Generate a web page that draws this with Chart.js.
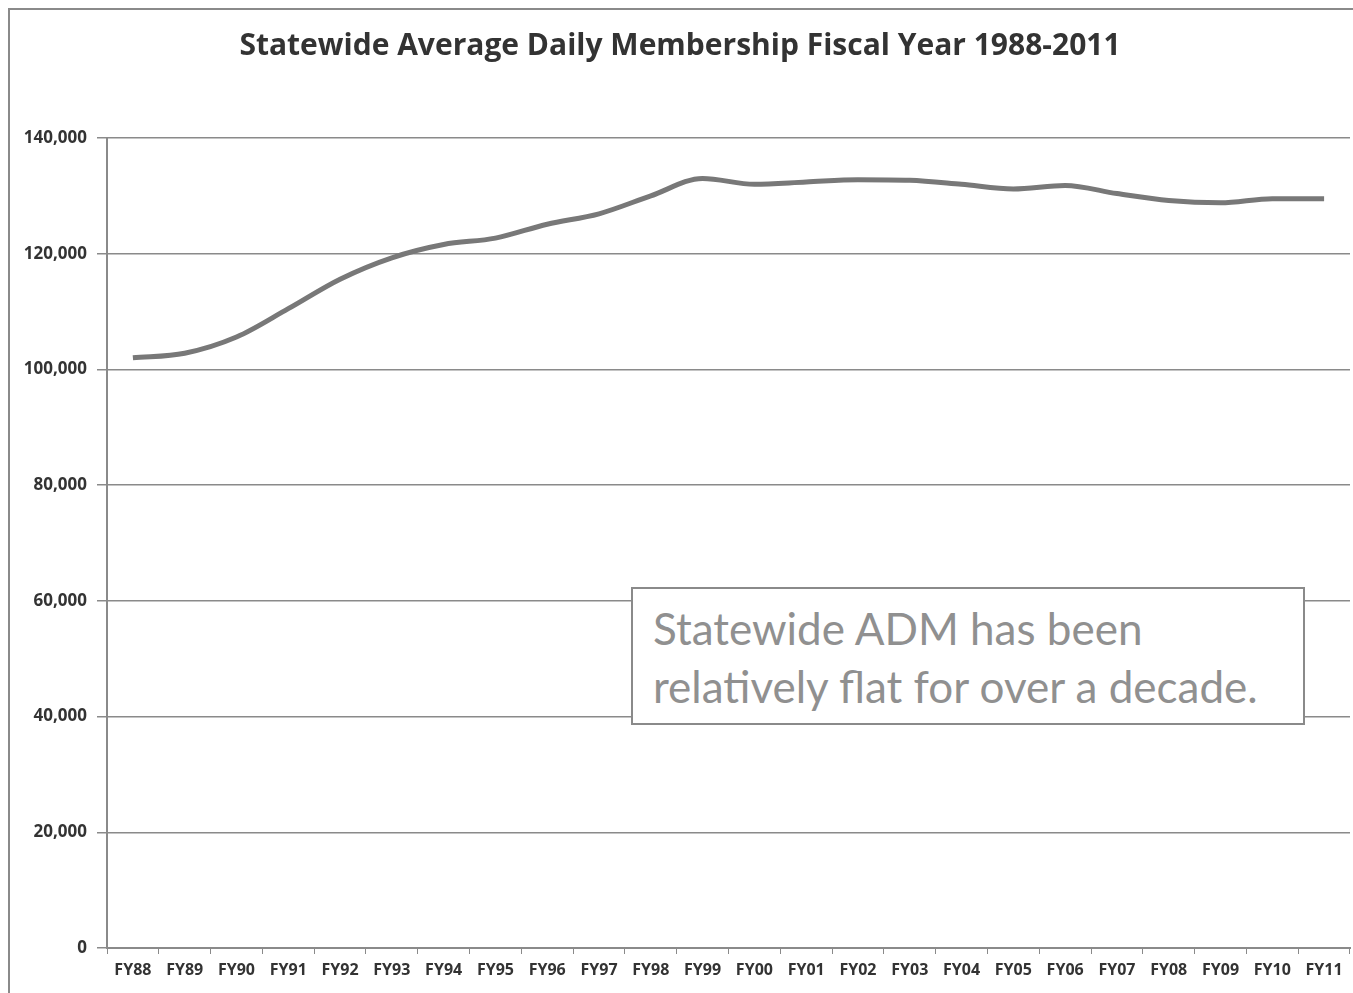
<!DOCTYPE html>
<html lang="en">
<head>
    <meta charset="UTF-8">
    <title>Statewide Average Daily Membership</title>
    <script src="https://cdn.jsdelivr.net/npm/chart.js"></script>
    <style>
        * {
            padding: 0;
            margin: 0;
            box-sizing: border-box;
        }

        body {
            width: 1353px;
            height: 993px;
            background: #ffffff;
            overflow: hidden;
            position: relative;
            font-family: 'Lato', sans-serif;
        }

        #frame {
            position: absolute;
            left: 8px;
            top: 8px;
            width: 1360px;
            height: 1000px;
            border: 2px solid #8a8a8a;
        }

        #wrap {
            position: absolute;
            left: 0;
            top: 0;
            width: 1353px;
            height: 993px;
        }

        #note {
            position: absolute;
            left: 631px;
            top: 587px;
            width: 674px;
            height: 138px;
            border: 2px solid #8a8a8a;
            background: #ffffff;
            color: #909090;
            font-size: 44px;
            line-height: 58px;
            padding: 10px 0 0 20px;
        }
    </style>
</head>
<body>
    <div id="frame"></div>
    <div id="wrap"><canvas id="chart"></canvas></div>
    <div id="note">Statewide ADM has been<br>relatively flat for over a decade.</div>

    <script>
        const years = ['FY88', 'FY89', 'FY90', 'FY91', 'FY92', 'FY93', 'FY94', 'FY95', 'FY96', 'FY97', 'FY98', 'FY99',
            'FY00', 'FY01', 'FY02', 'FY03', 'FY04', 'FY05', 'FY06', 'FY07', 'FY08', 'FY09', 'FY10', 'FY11'];
        const adm = [102000, 102800, 105600, 110500, 115600, 119300, 121600, 122700, 125100, 126900, 130000, 133000,
            132000, 132400, 132800, 132700, 132000, 131200, 131800, 130400, 129200, 128800, 129500, 129500];

        const ctx = document.getElementById('chart').getContext('2d');
        new Chart(ctx, {
            type: 'line',
            data: {
                labels: years,
                datasets: [{
                    label: 'ADM',
                    data: adm,
                    borderColor: '#787878',
                    borderWidth: 5,
                    pointRadius: 0,
                    fill: false,
                    cubicInterpolationMode: 'monotone'
                }]
            },
            options: {
                responsive: true,
                maintainAspectRatio: false,
                animation: false,
                layout: {
                    padding: { left: 10, right: 3, top: 0, bottom: 0 }
                },
                plugins: {
                    legend: { display: false },
                    tooltip: { enabled: false },
                    title: {
                        display: true,
                        text: 'Statewide Average Daily Membership Fiscal Year 1988-2011',
                        color: '#333333',
                        font: { family: 'Open Sans', size: 30, weight: 'bold' },
                        padding: { top: 28, bottom: 74 }
                    }
                },
                scales: {
                    x: {
                        offset: true,
                        grid: {
                            display: true,
                            drawOnChartArea: false,
                            offset: true,
                            tickLength: 6,
                            color: '#8a8a8a'
                        },
                        border: { color: '#8a8a8a', width: 2 },
                        ticks: {
                            color: '#333333',
                            font: { family: 'Open Sans', size: 16, weight: 'bold' },
                            maxRotation: 0,
                            autoSkip: false,
                            padding: 7
                        },
                        afterFit: (s) => { s.height = 45; }
                    },
                    y: {
                        min: 0,
                        max: 140000,
                        grid: {
                            color: '#8a8a8a',
                            lineWidth: 1.5,
                            tickLength: 10
                        },
                        border: { color: '#8a8a8a', width: 2 },
                        ticks: {
                            stepSize: 20000,
                            color: '#333333',
                            font: { family: 'Open Sans', size: 17, weight: 'bold' },
                            padding: 10,
                            callback: (v) => v.toLocaleString('en-US')
                        },
                        afterFit: (s) => { s.width = 97; }
                    }
                }
            }
        });
    </script>
</body>
</html>
